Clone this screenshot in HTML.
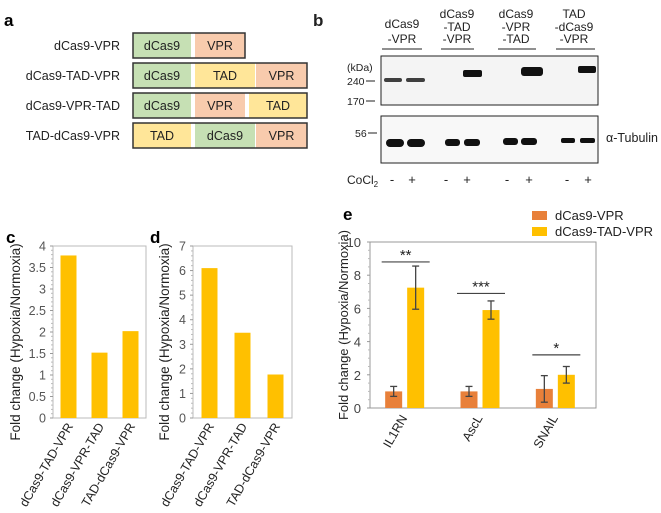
<!DOCTYPE html>
<html><head><meta charset="utf-8"><style>
body{margin:0;background:#fff}
svg{display:block;font-family:"Liberation Sans",Arial,sans-serif}
</style></head><body>
<svg id="fig" width="661" height="513" viewBox="0 0 661 513">
<g>
<text x="4" y="26" font-size="17" font-weight="bold">a</text>
<g font-size="12.5" text-anchor="end" fill="#222">
<text x="120" y="50">dCas9-VPR</text>
<text x="120" y="80">dCas9-TAD-VPR</text>
<text x="120" y="110">dCas9-VPR-TAD</text>
<text x="120" y="140">TAD-dCas9-VPR</text>
</g>
<g id="constructs" font-size="12.5" text-anchor="middle"></g>
</g>
<g font-size="12" fill="#222">
<text x="313" y="26" font-size="17" font-weight="bold">b</text>
<g text-anchor="middle">
<text x="402" y="28">dCas9</text><text x="402" y="43">-VPR</text>
<text x="457" y="18">dCas9</text><text x="457" y="31">-TAD</text><text x="457" y="43">-VPR</text>
<text x="516" y="18">dCas9</text><text x="516" y="31">-VPR</text><text x="516" y="43">-TAD</text>
<text x="574" y="18">TAD</text><text x="574" y="31">-dCas9</text><text x="574" y="43">-VPR</text>
</g>
<g stroke="#222" stroke-width="1">
<line x1="382" y1="49" x2="422" y2="49"/><line x1="441" y1="49" x2="474" y2="49"/>
<line x1="498" y1="49" x2="536" y2="49"/><line x1="556" y1="49" x2="595" y2="49"/>
</g>
<rect x="381" y="56" width="217" height="49" fill="#f4f4f4" stroke="#222"/>
<rect x="381" y="116" width="217" height="47" fill="#f8f8f8" stroke="#222"/>
<g font-size="10.5">
<text x="347" y="71">(kDa)</text>
<text x="347" y="85">240</text><line x1="366" y1="81" x2="375" y2="81" stroke="#222"/>
<text x="347" y="105">170</text><line x1="366" y1="101" x2="375" y2="101" stroke="#222"/>
<text x="355" y="137">56</text><line x1="368" y1="133" x2="377" y2="133" stroke="#222"/>
</g>
<g fill="#111">
<rect x="384" y="78" width="18" height="4" rx="2" opacity=".8"/><rect x="406" y="78" width="19" height="4" rx="2" opacity=".8"/>
<rect x="463" y="70" width="19" height="7" rx="2"/><rect x="521" y="67" width="22" height="9" rx="3"/>
<rect x="578" y="66" width="18" height="7" rx="2"/>
<rect x="386" y="139" width="18" height="8" rx="4"/><rect x="407" y="139" width="18" height="8" rx="4"/>
<rect x="445" y="139" width="15" height="7" rx="3"/><rect x="464" y="139" width="16" height="7" rx="3"/>
<rect x="503" y="138" width="15" height="7" rx="3"/><rect x="521" y="138" width="16" height="7" rx="3"/>
<rect x="561" y="138" width="14" height="5" rx="2"/><rect x="580" y="138" width="15" height="5" rx="2"/>
</g>
<text x="606" y="142" font-size="12.5">α-Tubulin</text>
<text x="347" y="184" font-size="12">CoCl<tspan font-size="8" dy="3">2</tspan></text>
<g font-size="13" text-anchor="middle">
<text x="392" y="184">-</text><text x="412" y="184">+</text><text x="446" y="184">-</text><text x="467" y="184">+</text>
<text x="507" y="184">-</text><text x="529" y="184">+</text><text x="567" y="184">-</text><text x="588" y="184">+</text>
</g>
</g>
<text x="6" y="243" font-size="17" font-weight="bold">c</text>
<text x="150" y="243" font-size="17" font-weight="bold">d</text>
<text x="343" y="220" font-size="17" font-weight="bold">e</text>
<g id="chartC"></g>
<g id="chartD"></g>
<g id="chartE"></g>
</svg>
<script>
const NS="http://www.w3.org/2000/svg";
const cCategories=["dCas9-TAD-VPR","dCas9-VPR-TAD","TAD-dCas9-VPR"];
const cValues=[3.78,1.52,2.02];
const cTicks=["0","0.5","1","1.5","2","2.5","3","3.5","4"];
const dValues=[6.1,3.47,1.77];
const dTicks=["0","1","2","3","4","5","6","7"];
const eCategories=["IL1RN","AscL","SNAIL"];
const eSeriesNames=["dCas9-VPR","dCas9-TAD-VPR"];
const eVPR=[1.0,1.0,1.15];
const eVPRErr=[0.3,0.3,0.8];
const eTAD=[7.25,5.9,2.0];
const eTADErr=[1.3,0.55,0.5];
const eSigLevel=[8.8,6.9,3.2];
const eSigLabel=["**","***","*"];
const eTicks=["0","2","4","6","8","10"];

function mk(tag,attrs,parent,txt){const e=document.createElementNS(NS,tag);for(const k in attrs)e.setAttribute(k,attrs[k]);if(txt!=null)e.textContent=txt;parent.appendChild(e);return e;}

const cons=document.getElementById('constructs');
const rows=[[["dCas9",133,191],["VPR",195,245]],[["dCas9",133,191],["TAD",195,255],["VPR",256,307]],[["dCas9",133,191],["VPR",195,245],["TAD",249,307]],[["TAD",133,191],["dCas9",195,255],["VPR",256,307]]];
const colr={dCas9:"#c6e0b4",VPR:"#f8cbad",TAD:"#ffe699"};
rows.forEach((r,i)=>{const y=33+i*30;
 r.forEach(s=>{const seg=mk('rect',{x:s[1],y:y,width:s[2]-s[1],height:25,fill:colr[s[0]]},cons);
 
 
 mk('text',{x:(s[1]+s[2])/2,y:y+17,fill:'#222'},cons,s[0]);});
 mk('rect',{x:133,y:y,width:r[r.length-1][2]-133,height:25,fill:'none',stroke:'#333','stroke-width':1.5},cons);
});

function barChart(gid,L,R,T,B,max,ticks,vals,cats,titleX){
 const g=document.getElementById(gid);
 const y=v=>B-(v/max)*(B-T);
 const n=cats.length,w=(R-L)/n;
 mk('rect',{x:L,y:T,width:R-L,height:B-T,fill:'none',stroke:'#bbb'},g);
 ticks.forEach((t,i)=>{const v=parseFloat(t);const yy=y(v);
  mk('text',{x:L-7,y:yy+4.5,'font-size':12.5,'text-anchor':'end',fill:'#555'},g,t);
  mk('line',{x1:L-3,x2:L,y1:yy,y2:yy,stroke:'#999'},g);
  if(i<ticks.length-1){for(let k=1;k<5;k++){const ym=y(v+(parseFloat(ticks[1])-parseFloat(ticks[0]))*k/5);mk('line',{x1:L-2,x2:L,y1:ym,y2:ym,stroke:'#bbb'},g);}}
 });
 vals.forEach((v,i)=>{const cx=L+w*(i+0.5);
  const b=mk('rect',{x:cx-8,y:y(v),width:16,height:B-y(v),fill:'#ffc000'},g);
  
  
  mk('text',{transform:`translate(${cx+5},${B+8}) rotate(-60)`,'font-size':12.5,'text-anchor':'end',fill:'#222'},g,cats[i]);
 });
 const t=mk('text',{transform:`translate(${titleX},${(T+B)/2+10}) rotate(-90)`,'font-size':13.5,'text-anchor':'middle',fill:'#222'},g,'Fold change (Hypoxia/Normoxia)');
 
 
}
barChart('chartC',53,146,246,418,4,cTicks,cValues,cCategories,20);
barChart('chartD',193,292,246,418,7,dTicks,dValues,cCategories,169);

(function(){
 const g=document.getElementById('chartE');
 const L=370,R=596,T=242,B=408,max=10;
 const y=v=>B-(v/max)*(B-T);
 const w=(R-L)/3;
 mk('rect',{x:L,y:T,width:R-L,height:B-T,fill:'none',stroke:'#999'},g);
 eTicks.forEach((t,i)=>{const v=parseFloat(t),yy=y(v);
  mk('text',{x:L-9,y:yy+5,'font-size':13,'text-anchor':'end',fill:'#444'},g,t);
  mk('line',{x1:L-3,x2:L,y1:yy,y2:yy,stroke:'#999'},g);
  if(i<eTicks.length-1)for(let k=1;k<4;k++){const ym=y(v+2*k/4);mk('line',{x1:L-2,x2:L,y1:ym,y2:ym,stroke:'#bbb'},g);}
 });
 eCategories.forEach((c,i)=>{const cx=L+w*(i+0.5)-2;
  [[eVPR,eVPRErr,'#e8803a',-12],[eTAD,eTADErr,'#ffc000',10]].forEach((s,j)=>{
   const v=s[0][i],e=s[1][i],x=cx+s[3];
   const b=mk('rect',{x:x-8.5,y:y(v),width:17,height:B-y(v),fill:s[2]},g);
   
   
   mk('line',{x1:x,x2:x,y1:y(v+e),y2:y(Math.max(0,v-e)),stroke:'#444','stroke-width':1.3},g);
   mk('line',{x1:x-3.5,x2:x+3.5,y1:y(v+e),y2:y(v+e),stroke:'#444','stroke-width':1.3},g);
   mk('line',{x1:x-3.5,x2:x+3.5,y1:y(Math.max(0,v-e)),y2:y(Math.max(0,v-e)),stroke:'#444','stroke-width':1.3},g);
  });
  const ys=y(eSigLevel[i]);
  mk('line',{x1:cx-24,x2:cx+24,y1:ys,y2:ys,stroke:'#444','stroke-width':1.2},g);
  mk('text',{x:cx,y:ys-2,'font-size':15,'text-anchor':'middle',fill:'#222'},g,eSigLabel[i]);
  mk('text',{transform:`translate(${cx+2},${B+10}) rotate(-60)`,'font-size':12.5,'text-anchor':'end',fill:'#222'},g,c);
 });
 const t=mk('text',{transform:`translate(348,${(T+B)/2}) rotate(-90)`,'font-size':13,'text-anchor':'middle',fill:'#222'},g,'Fold change (Hypoxia/Normoxia)');
 
 
 ['#e8803a','#ffc000'].forEach((col,i)=>{
  const sw=mk('rect',{x:532,y:211+i*16,width:15,height:9,fill:col},g);
  
  
  mk('text',{x:555,y:220+i*16,'font-size':13,fill:'#222'},g,eSeriesNames[i]);
 });
})();
</script>
</body></html>
